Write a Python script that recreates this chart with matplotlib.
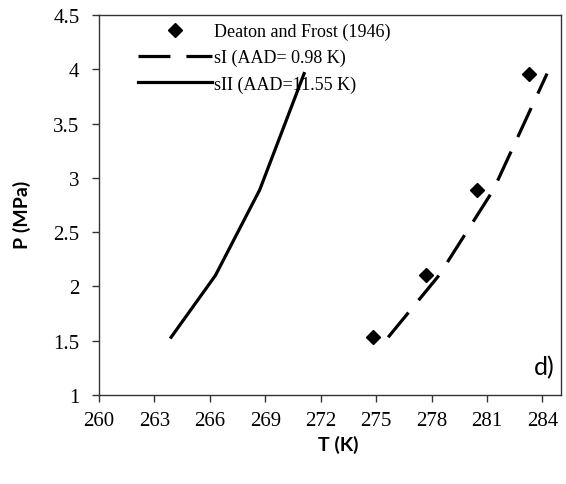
import matplotlib.pyplot as plt

# Deaton and Frost (1946) experimental data
T_exp = [274.85, 277.7, 280.45, 283.3]
P_exp = [1.53, 2.10, 2.89, 3.96]

# sI prediction
T_sI = [275.65, 278.4, 281.35, 284.25]
P_sI = [1.53, 2.10, 2.89, 3.96]

# sII prediction
T_sII = [263.9, 266.3, 268.7, 271.1]
P_sII = [1.53, 2.10, 2.89, 3.96]

xticks = [260, 263, 266, 269, 272, 275, 278, 281, 284]
yticks = [1, 1.5, 2, 2.5, 3, 3.5, 4, 4.5]

serif = ['Liberation Serif', 'DejaVu Serif']
sans = ['Lato', 'DejaVu Sans']

fig = plt.figure(figsize=(5.66, 4.85), dpi=100)
ax = fig.add_axes([0.175, 0.184, 0.816, 0.783])

ax.plot(T_exp, P_exp, linestyle='none', marker='D', markersize=7,
        color='black', label='Deaton and Frost (1946)')
ax.plot(T_sI, P_sI, color='black', linewidth=2.3, dashes=(10, 5),
        label='sI (AAD= 0.98 K)')
ax.plot(T_sII, P_sII, color='black', linewidth=2.3,
        label='sII (AAD=11.55 K)')

ax.set_xlim(260, 285)
ax.set_ylim(1, 4.5)
ax.set_xticks(xticks)
ax.set_yticks(yticks)
ax.set_xticklabels([str(t) for t in xticks], fontfamily=serif, fontsize=15)
ax.set_yticklabels(['%g' % t for t in yticks], fontfamily=serif, fontsize=15)
ax.tick_params(direction='out', length=5, width=1, color='#333333')
ax.tick_params(axis='x', pad=7)
ax.tick_params(axis='y', pad=9)
for s in ax.spines.values():
    s.set_linewidth(1)
    s.set_color('#333333')

ax.set_xlabel('T (K)', fontfamily=sans, fontweight='bold', fontsize=14)
ax.set_ylabel('P (MPa)', fontfamily=sans, fontweight='bold', fontsize=14)
ax.xaxis.set_label_coords(0.517, -0.13)
ax.xaxis.label.set_va('center')
ax.yaxis.set_label_coords(-0.168, 0.476)
ax.yaxis.label.set_va('center')

ax.legend(loc='upper left', bbox_to_anchor=(0.06, 1.008), frameon=False,
          prop={'family': serif, 'size': 13}, handlelength=4.1,
          handletextpad=0.15, labelspacing=0.5, borderaxespad=0.2)

ax.text(0.987, 0.073, 'd)', transform=ax.transAxes, ha='right', va='center',
        fontfamily=sans, fontsize=18)

fig.savefig('out.png', dpi=100)
